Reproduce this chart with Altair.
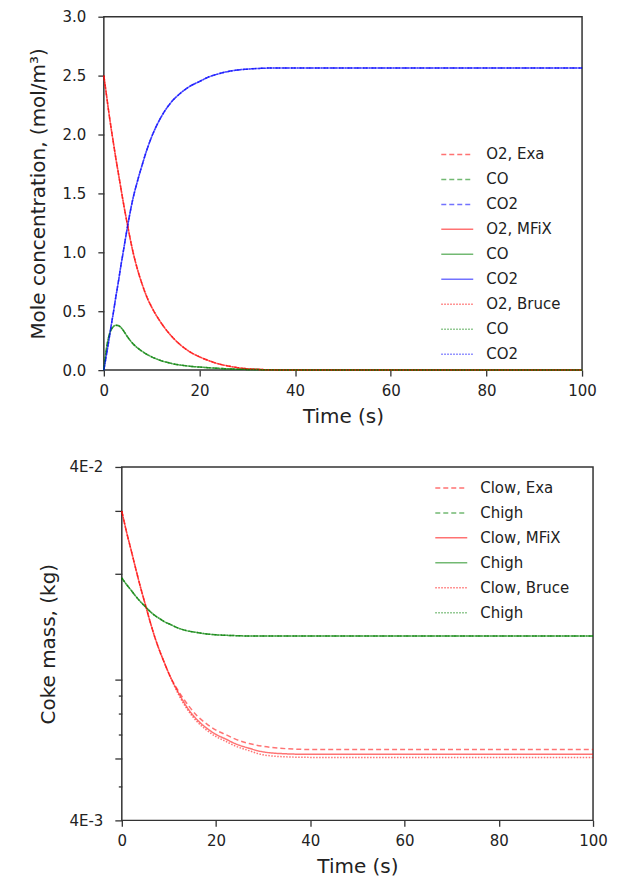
import altair as alt
import pandas as pd

# ---------------- top panel: gas concentrations ----------------
t_gas = [0, 0.5, 1, 1.5, 2, 2.5, 3, 3.5, 4, 5, 6, 7, 8, 9, 10, 12, 14, 16, 18, 20,
         22, 24, 26, 28, 30, 33, 36, 40, 50, 60, 70, 80, 90, 100]
o2 = [2.50, 2.35, 2.20, 2.06, 1.93, 1.80, 1.68, 1.56, 1.44, 1.22, 1.02, 0.86, 0.73,
      0.62, 0.535, 0.40, 0.295, 0.215, 0.155, 0.113, 0.080, 0.053, 0.035, 0.021,
      0.012, 0.005, 0.002, 0.0005, 0, 0, 0, 0, 0, 0]
co = [0, 0.17, 0.28, 0.34, 0.37, 0.38, 0.378, 0.365, 0.34, 0.28, 0.228, 0.19, 0.16,
      0.134, 0.113, 0.080, 0.058, 0.043, 0.033, 0.026, 0.020, 0.015, 0.011, 0.008,
      0.006, 0.004, 0.002, 0.001, 0, 0, 0, 0, 0, 0]
co2 = [0, 0.12, 0.24, 0.37, 0.49, 0.62, 0.74, 0.87, 0.99, 1.23, 1.44, 1.60, 1.74,
       1.87, 1.98, 2.15, 2.27, 2.35, 2.41, 2.45, 2.49, 2.515, 2.535, 2.548, 2.555,
       2.562, 2.565, 2.565, 2.565, 2.565, 2.565, 2.565, 2.565, 2.565]
gas_models = ["Exa", "MFiX", "Bruce"]
gas_species = ["O2", "CO", "CO2"]

# ---------------- bottom panel: coke mass ----------------
t_coke = [0, 1, 2, 3, 4, 5, 6, 7, 8, 9, 10, 12, 14, 16, 18, 20, 22, 24, 27, 30, 35,
          40, 50, 60, 70, 80, 90, 100]
clow_exa = [0.0300, 0.0262, 0.0232, 0.0205, 0.0182, 0.0163, 0.0146, 0.0132, 0.0121,
            0.0112, 0.0104, 0.0093, 0.0085, 0.0079, 0.0075, 0.0072, 0.0070, 0.0068,
            0.0066, 0.00648, 0.00638, 0.00635, 0.00635, 0.00635, 0.00635, 0.00635,
            0.00635, 0.00635]
clow_mfix = [0.0300, 0.0262, 0.0232, 0.0205, 0.0182, 0.0163, 0.0146, 0.0132, 0.0121,
             0.0112, 0.0104, 0.0092, 0.0083, 0.0077, 0.0073, 0.0070, 0.0068, 0.0066,
             0.00640, 0.00625, 0.00617, 0.00615, 0.00615, 0.00615, 0.00615, 0.00615,
             0.00615, 0.00615]
clow_bruce = [0.0300, 0.0262, 0.0232, 0.0205, 0.0182, 0.0163, 0.0146, 0.0132, 0.0121,
              0.0112, 0.0104, 0.0091, 0.0082, 0.0076, 0.0072, 0.0069, 0.0067, 0.0065,
              0.0063, 0.00613, 0.00605, 0.00603, 0.00603, 0.00603, 0.00603, 0.00603,
              0.00603, 0.00603]
chigh = [0.0194, 0.0186, 0.0179, 0.0172, 0.0166, 0.0161, 0.0156, 0.0152, 0.0149,
         0.0146, 0.0144, 0.0140, 0.01375, 0.0136, 0.01348, 0.0134, 0.01336, 0.01333,
         0.0133, 0.0133, 0.0133, 0.0133, 0.0133, 0.0133, 0.0133, 0.0133, 0.0133, 0.0133]

y_ticks_top = [0, 0.5, 1.0, 1.5, 2.0, 2.5, 3.0]
x_ticks = [0, 20, 40, 60, 80, 100]
y_ticks_bottom = [0.04, 0.03, 0.02, 0.01, 0.009, 0.008, 0.007, 0.006, 0.005, 0.004]

RED, GREEN, BLUE = "#ff0000", "#008000", "#0000ff"
DASH = {"Exa": [5, 3], "MFiX": [1, 0], "Bruce": [1.5, 1.5]}
FONT = "DejaVu Sans"
TXT = "#222222"

# ---- build top table ----
gas_vals = {"O2": o2, "CO": co, "CO2": co2}
gas_col = {"O2": RED, "CO": GREEN, "CO2": BLUE}
rows, gas_keys, gas_colors, gas_dashes = [], [], [], []
for m in gas_models:
    for sp in gas_species:
        key = f"O2, {m}" if sp == "O2" else f"{sp}|{m}"
        gas_keys.append(key)
        gas_colors.append(gas_col[sp])
        gas_dashes.append(DASH[m])
        for t, v in zip(t_gas, gas_vals[sp]):
            rows.append({"t": t, "v": v, "key": key})
gas_df = pd.DataFrame(rows)

# ---- build bottom table ----
clow = {"Exa": clow_exa, "MFiX": clow_mfix, "Bruce": clow_bruce}
rows, coke_keys, coke_colors, coke_dashes = [], [], [], []
for m in gas_models:
    for name, vals, col in [("Clow", clow[m], RED), ("Chigh", chigh, GREEN)]:
        key = f"Clow, {m}" if name == "Clow" else f"Chigh|{m}"
        coke_keys.append(key)
        coke_colors.append(col)
        coke_dashes.append(DASH[m])
        for t, v in zip(t_coke, vals):
            rows.append({"t": t, "v": v, "key": key})
coke_df = pd.DataFrame(rows)


def legend(x, y):
    return alt.Legend(
        title=None, orient="none", legendX=x, legendY=y, padding=0,
        labelExpr="split(datum.label, '|')[0]", labelFont=FONT, labelFontSize=15,
        labelColor=TXT, symbolType="stroke", symbolSize=1024, symbolStrokeWidth=1.5,
        symbolOpacity=0.55, labelOffset=12, rowPadding=-2, labelLimit=300,
    )


x_axis = alt.Axis(values=x_ticks, title="Time (s)", tickSize=6, labelPadding=7,
                  titlePadding=8, format="d", labelFlush=False)

top = alt.Chart(gas_df).mark_line(strokeWidth=1.5, opacity=0.55, interpolate="monotone").encode(
    x=alt.X("t:Q", scale=alt.Scale(domain=[0, 100], nice=False), axis=x_axis),
    y=alt.Y("v:Q", scale=alt.Scale(domain=[0, 3], nice=False),
            axis=alt.Axis(values=y_ticks_top, format=".1f", title="Mole concentration, (mol/m³)",
                          tickSize=6, labelPadding=12, titlePadding=14)),
    color=alt.Color("key:N", scale=alt.Scale(domain=gas_keys, range=gas_colors), legend=legend(337, 121)),
    strokeDash=alt.StrokeDash("key:N", scale=alt.Scale(domain=gas_keys, range=gas_dashes), legend=legend(337, 121)),
).properties(width=479, height=354)

short_test = ("abs(datum.value-0.009)<1e-9 || abs(datum.value-0.008)<1e-9 || "
              "abs(datum.value-0.007)<1e-9 || abs(datum.value-0.005)<1e-9")
bottom = alt.Chart(coke_df).mark_line(strokeWidth=1.5, opacity=0.55, interpolate="monotone").encode(
    x=alt.X("t:Q", scale=alt.Scale(domain=[0, 100], nice=False), axis=x_axis),
    y=alt.Y("v:Q", scale=alt.Scale(type="log", domain=[0.004, 0.04], nice=False),
            axis=alt.Axis(values=y_ticks_bottom, title="Coke mass, (kg)",
                          labelExpr="abs(datum.value-0.04)<1e-9 ? '4E-2' : (abs(datum.value-0.004)<1e-9 ? '4E-3' : '')",
                          labelOverlap=False,
                          tickSize={"condition": {"test": short_test, "value": 3.5}, "value": 7},
                          labelPadding=12, titlePadding=10)),
    color=alt.Color("key:N", scale=alt.Scale(domain=coke_keys, range=coke_colors), legend=legend(331, 4)),
    strokeDash=alt.StrokeDash("key:N", scale=alt.Scale(domain=coke_keys, range=coke_dashes), legend=legend(331, 4)),
).properties(width=472, height=354)

# empty spacer shifts the lower panel's frame to the right, as in the reference
spacer = alt.Chart(pd.DataFrame({"t": []})).mark_point().properties(
    width=18, height=354, view=alt.ViewBackground(strokeOpacity=0)
)
bottom_row = alt.hconcat(spacer, bottom, spacing=0, bounds="flush")

chart = alt.concat(top, bottom_row, columns=1, spacing=32, align="none").resolve_scale(
    color="independent", strokeDash="independent"
).properties(
    padding={"left": 19, "top": 0, "right": 3, "bottom": 0}
).configure_view(
    stroke="#333333", strokeWidth=1.5
).configure_axis(
    labelFont=FONT, labelFontSize=15, labelColor=TXT, titleFont=FONT, titleFontSize=20,
    titleFontWeight="normal", titleColor=TXT, tickColor="#333333", tickWidth=1.3,
    domain=False, grid=False,
)

chart.save("out.html", embed_options={"renderer": "svg", "actions": False})
